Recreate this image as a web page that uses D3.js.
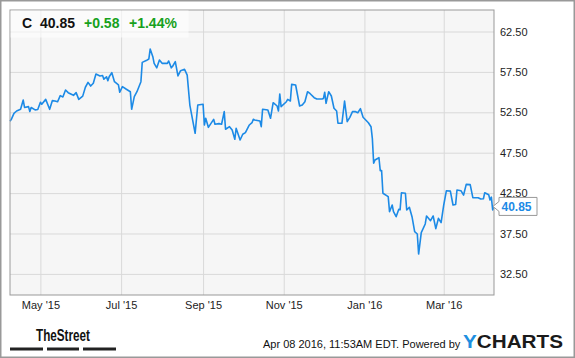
<!DOCTYPE html>
<html><head><meta charset="utf-8">
<script src="https://cdn.jsdelivr.net/npm/d3@7"></script>
<style>
html,body{margin:0;padding:0;background:#fff;}
svg{display:block;font-family:"Liberation Sans",Arial,sans-serif;}
</style></head>
<body><svg id="c" width="575" height="358"></svg>
<script>
const ticker = "C";
const lastPrice = "40.85";
const change = "+0.58";
const changePct = "+1.44%";
const stamp = "Apr 08 2016, 11:53AM EDT. Powered by";
const yTicks = [32.5, 37.5, 42.5, 47.5, 52.5, 57.5, 62.5];
const xTickDates = ["2015-05-01","2015-07-01","2015-09-01","2015-11-01","2016-01-01","2016-03-01"];
const dates = [
"2015-04-08","2015-04-09","2015-04-11","2015-04-13","2015-04-16","2015-04-18","2015-04-19","2015-04-22","2015-04-23","2015-04-24",
"2015-04-27","2015-04-29","2015-05-01","2015-05-02","2015-05-05","2015-05-08","2015-05-10","2015-05-12","2015-05-14","2015-05-16",
"2015-05-18","2015-05-20","2015-05-22","2015-05-26","2015-05-28","2015-05-30","2015-06-02","2015-06-04","2015-06-06","2015-06-08",
"2015-06-10","2015-06-12","2015-06-15","2015-06-17","2015-06-18","2015-06-20","2015-06-21","2015-06-22","2015-06-24","2015-06-26",
"2015-06-29","2015-06-30","2015-07-02","2015-07-05","2015-07-08","2015-07-09","2015-07-11","2015-07-13","2015-07-16","2015-07-17",
"2015-07-20","2015-07-22","2015-07-23","2015-07-25","2015-07-26","2015-07-28","2015-07-30","2015-08-01","2015-08-05","2015-08-06",
"2015-08-08","2015-08-09","2015-08-11","2015-08-13","2015-08-15","2015-08-18","2015-08-20","2015-08-22","2015-08-26","2015-08-28",
"2015-09-01","2015-09-02","2015-09-03","2015-09-05","2015-09-09","2015-09-10","2015-09-13","2015-09-15","2015-09-17","2015-09-18",
"2015-09-21","2015-09-23","2015-09-25","2015-09-26","2015-09-29","2015-10-01","2015-10-03","2015-10-06","2015-10-08","2015-10-09",
"2015-10-10","2015-10-14","2015-10-15","2015-10-16","2015-10-20","2015-10-22","2015-10-24","2015-10-27","2015-10-28","2015-10-29",
"2015-10-30","2015-11-03","2015-11-04","2015-11-06","2015-11-07","2015-11-10","2015-11-13","2015-11-15","2015-11-17","2015-11-19",
"2015-11-21","2015-11-24","2015-11-26","2015-11-30","2015-12-01","2015-12-02","2015-12-03","2015-12-05","2015-12-07","2015-12-09",
"2015-12-11","2015-12-12","2015-12-15","2015-12-17","2015-12-19","2015-12-21","2015-12-23","2015-12-25","2015-12-27","2015-12-29",
"2015-12-31","2016-01-02","2016-01-04","2016-01-06","2016-01-07","2016-01-08","2016-01-09","2016-01-12","2016-01-13","2016-01-14",
"2016-01-15","2016-01-19","2016-01-20","2016-01-22","2016-01-23","2016-01-25","2016-01-27","2016-01-28","2016-01-29","2016-02-01",
"2016-02-02","2016-02-04","2016-02-06","2016-02-08","2016-02-10","2016-02-11","2016-02-13","2016-02-16","2016-02-17","2016-02-20",
"2016-02-22","2016-02-24","2016-02-26","2016-02-28","2016-03-01","2016-03-03","2016-03-06","2016-03-08","2016-03-10","2016-03-11",
"2016-03-14","2016-03-16","2016-03-18","2016-03-21","2016-03-23","2016-03-27","2016-03-29","2016-03-31","2016-04-01","2016-04-04",
"2016-04-05","2016-04-06","2016-04-07","2016-04-08"];
const closes = [
51.4,51.63,52.37,52.66,52.87,54.02,53.1,53.2,52.6,53.1,
52.8,52.85,53.74,53.5,54.1,52.87,53.94,53.9,53.8,54.56,
54.4,55.26,54.93,54.6,54.93,54.1,54.5,55.6,56.2,55.75,
56.1,57.24,57.0,57.05,56.6,56.9,56.4,56.9,57.4,56.29,
55.9,54.98,55.67,55.35,55.05,52.87,54.43,55.05,56.29,58.68,
58.9,59.1,60.33,59.38,58.56,58.0,58.97,58.56,58.56,58.85,
58.0,58.2,58.77,57.0,57.65,57.82,57.1,53.4,49.9,53.4,
53.5,50.93,51.76,50.64,51.63,51.02,51.1,51.02,52.58,50.4,
50.72,50.3,49.16,50.52,49.07,49.78,49.98,50.93,51.21,51.63,
51.55,51.42,50.72,52.87,52.78,51.76,53.69,53.28,52.66,54.77,
53.2,53.81,54.1,53.9,55.96,55.88,53.28,53.4,53.81,55.05,
54.8,54.31,54.15,54.15,54.2,54.98,53.61,55.05,54.52,53.0,
52.66,51.14,51.14,53.9,51.34,51.88,52.58,52.6,52.45,52.95,
51.88,51.55,51.21,50.72,49.28,46.19,46.6,46.88,45.27,45.3,
42.48,42.06,40.2,41.03,40.2,39.58,40.5,40.45,42.55,42.48,
40.41,40.74,39.58,37.72,37.44,34.96,37.6,38.68,39.67,39.09,
39.67,38.1,39.38,38.84,41.03,42.8,42.75,41.03,41.1,42.88,
42.8,42.26,43.58,43.55,41.93,41.93,41.77,41.8,42.55,42.3,
41.65,42.0,40.41,40.85];

const parse = d3.timeParse("%Y-%m-%d");
const data = dates.map((d, i) => ({date: parse(d), value: closes[i]}));

const L = 10, R = 494, T = 10, B = 295;
const svg = d3.select("#c");

const x = d3.scaleTime().domain([parse("2015-04-08"), parse("2016-04-08")]).range([L, R]);
const y = d3.scaleLinear().domain([29.89, 65.16]).range([B, T]);

// outer frame
svg.append("rect").attr("x", 0.75).attr("y", 0.75).attr("width", 573.5).attr("height", 356.5)
  .attr("fill", "#fff").attr("stroke", "#999").attr("stroke-width", 1.5);

// plot background
svg.append("rect").attr("x", L).attr("y", T).attr("width", R - L).attr("height", B - T).attr("fill", "#f6f6f6");

// gridlines
const gx = svg.append("g").attr("transform", `translate(0,${B})`)
  .call(d3.axisBottom(x).tickValues(xTickDates.map(parse)).tickSize(-(B - T)).tickFormat(""));
gx.select(".domain").remove();
gx.selectAll("line").attr("stroke", "#d9d9d9");
const gy = svg.append("g").attr("transform", `translate(${L},0)`)
  .call(d3.axisLeft(y).tickValues(yTicks).tickSize(-(R - L)).tickFormat(""));
gy.select(".domain").remove();
gy.selectAll("line").attr("stroke", "#d9d9d9");

// line
svg.append("path").datum(data)
  .attr("fill", "none").attr("stroke", "#1c8ae6").attr("stroke-width", 1.6)
  .attr("stroke-linejoin", "round")
  .attr("d", d3.line().x(d => x(d.date)).y(d => y(d.value)));

// plot border
svg.append("rect").attr("x", L).attr("y", T).attr("width", R - L).attr("height", B - T)
  .attr("fill", "none").attr("stroke", "#999").attr("stroke-width", 1);

// axes labels
const ax = svg.append("g").attr("transform", `translate(0,${B})`)
  .call(d3.axisBottom(x).tickValues(xTickDates.map(parse)).tickSize(0).tickPadding(6).tickFormat(d3.timeFormat("%b '%y")));
ax.select(".domain").remove();
ax.selectAll("text").attr("font-size", 11).attr("fill", "#222").attr("font-family", '"Liberation Sans",Arial,sans-serif');

const ay = svg.append("g").attr("transform", `translate(${R},0)`)
  .call(d3.axisRight(y).tickValues(yTicks).tickSize(0).tickPadding(6).tickFormat(d3.format(".2f")));
ay.select(".domain").remove();
ay.selectAll("text").attr("font-size", 11).attr("fill", "#222").attr("font-family", '"Liberation Sans",Arial,sans-serif');

// header
svg.append("rect").attr("x", L + 0.5).attr("y", T + 0.5).attr("width", 178).attr("height", 27)
  .attr("fill", "rgba(255,255,255,0.6)");
const hdr = svg.append("text").attr("y", 28).attr("font-size", 14).attr("font-weight", "bold");
hdr.append("tspan").attr("x", 22).attr("fill", "#111").text(ticker);
hdr.append("tspan").attr("x", 40).attr("fill", "#111").text(lastPrice);
hdr.append("tspan").attr("x", 84).attr("fill", "#17a11c").text(change);
hdr.append("tspan").attr("x", 129).attr("fill", "#17a11c").text(changePct);

// last value callout
const lastY = y(closes[closes.length - 1]);
svg.append("path")
  .attr("d", `M${R - 1},${lastY} L${R + 5},${lastY - 5} L${R + 5},${lastY - 9} L${R + 43},${lastY - 9} L${R + 43},${lastY + 9} L${R + 5},${lastY + 9} L${R + 5},${lastY + 5} Z`)
  .attr("fill", "#fff").attr("stroke", "#999").attr("stroke-width", 1);
svg.append("text").attr("x", R + 7.5).attr("y", lastY + 4.5).attr("font-size", 12).attr("font-weight", "bold")
  .attr("fill", "#1c8ae6").text(closes[closes.length - 1].toFixed(2));

// footer: TheStreet logo
svg.append("text").attr("x", 36).attr("y", 341).attr("font-size", 17).attr("font-weight", "bold")
  .attr("font-family", '"Liberation Sans Narrow","Liberation Sans",Arial,sans-serif')
  .attr("textLength", 54).attr("lengthAdjust", "spacingAndGlyphs").attr("fill", "#111").text("TheStreet");
[[10, 33], [47, 32], [83, 33]].forEach(([bx, bw]) => {
  svg.append("rect").attr("x", bx).attr("y", 347.5).attr("width", bw).attr("height", 3).attr("fill", "#222");
});

// footer stamp
svg.append("text").attr("x", 263).attr("y", 348).attr("font-size", 11).attr("fill", "#111").text(stamp);
const yc = svg.append("text").attr("x", 463).attr("y", 348).attr("font-size", 18).attr("font-weight", "bold")
  .attr("textLength", 100).attr("lengthAdjust", "spacingAndGlyphs");
yc.append("tspan").attr("fill", "#1e8fe0").text("Y");
yc.append("tspan").attr("fill", "#1a1a1a").text("CHARTS");
</script></body></html>
